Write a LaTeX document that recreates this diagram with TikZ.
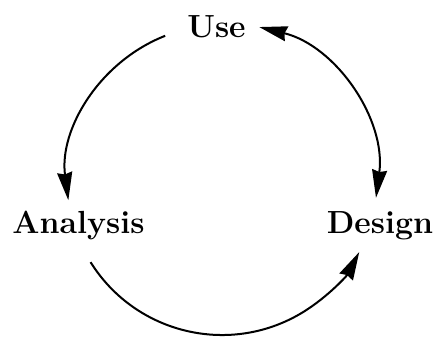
\documentclass[tikz,border=0pt]{standalone}
\usepackage{fontspec}
\usetikzlibrary{arrows.meta}
\begin{document}
\begin{tikzpicture}[x=1pt,y=1pt,
  lbl/.style={font=\fontsize{32}{38}\selectfont\bfseries, inner sep=0pt, anchor=base},
  arc line/.style={line width=2pt, black},
  bigtip/.tip={Stealth[length=28pt,width=15pt,inset=2pt]}]
\useasboundingbox (0,0) rectangle (435,337);
\node[lbl] (use) at (216.5,299) {Use};
\node[lbl] (analysis) at (78.5,104) {Analysis};
\node[lbl] (design) at (380,104) {Design};
\coordinate (O) at (222,157);
\path (O) ++(111.5:155pt) coordinate (ua);
\path (O) ++(-6.6:155pt) coordinate (du);
\path (O) ++(212:155pt) coordinate (ad);
\draw[arc line, -{bigtip}] (ua) arc[start angle=111.5, end angle=187.5, radius=155pt];
\draw[arc line, {bigtip}-{bigtip}] (du) arc[start angle=-7.5, end angle=76.2, radius=155pt];
\draw[arc line, -{bigtip}] (ad) arc[start angle=212, end angle=332.3, radius=155pt];
\end{tikzpicture}
\end{document}
